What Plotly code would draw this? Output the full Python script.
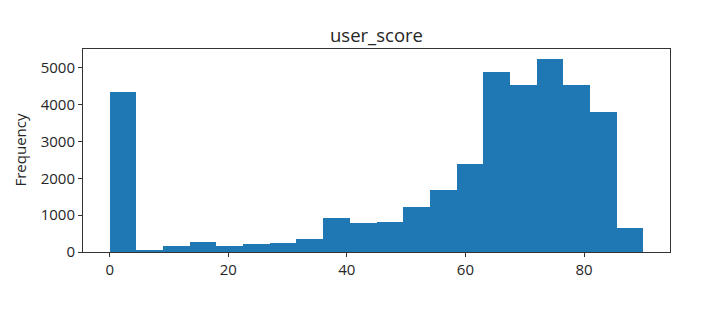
import plotly.graph_objects as go

# Histogram of user_score: 20 bins from 0 to 90
bin_edges = [0, 4.5, 9, 13.5, 18, 22.5, 27, 31.5, 36, 40.5, 45, 49.5, 54, 58.5, 63,
             67.5, 72, 76.5, 81, 85.5, 90]
counts = [4350, 45, 160, 285, 165, 205, 250, 365, 930, 780, 805, 1210, 1695, 2385,
          4890, 4525, 5250, 4525, 3805, 645]
x_ticks = [0, 20, 40, 60, 80]
y_ticks = [0, 1000, 2000, 3000, 4000, 5000]

centers = [(a + b) / 2 for a, b in zip(bin_edges[:-1], bin_edges[1:])]
widths = [b - a for a, b in zip(bin_edges[:-1], bin_edges[1:])]

W, H = 724, 322
L, R, T, B = 83, 54, 49, 70
FONT = "Open Sans"
TXT = "#262626"

fig = go.Figure(go.Bar(x=centers, y=counts, width=widths,
                       marker=dict(color="#1f77b4", line=dict(width=0))))

span = bin_edges[-1] - bin_edges[0]
ymax = max(counts) * 1.05

axis_common = dict(showline=True, linecolor="#333", linewidth=1, mirror=True,
                   ticks="outside", ticklen=4, tickcolor="#333", showgrid=False,
                   zeroline=False, tickfont=dict(family=FONT, size=15, color=TXT))

fig.update_layout(
    width=W, height=H,
    margin=dict(l=L, r=R, t=T, b=B),
    plot_bgcolor="white", paper_bgcolor="white",
    bargap=0, showlegend=False,
    title=dict(text="user_score", x=0.5, xref="paper", xanchor="center",
               y=1 - 36 / H, yref="container", yanchor="middle",
               font=dict(family=FONT, size=18.5, color=TXT)),
    xaxis=dict(range=[bin_edges[0] - 0.05 * span, bin_edges[-1] + 0.05 * span],
               tickvals=x_ticks, **axis_common),
    yaxis=dict(range=[0, ymax], tickvals=y_ticks, **axis_common),
    annotations=[dict(text="Frequency", textangle=-90, xref="paper", yref="paper",
                      x=(19 - L) / (W - L - R), y=0.5, xanchor="center", yanchor="middle",
                      showarrow=False, font=dict(family=FONT, size=15, color=TXT))],
)

fig.write_html("out.html")
